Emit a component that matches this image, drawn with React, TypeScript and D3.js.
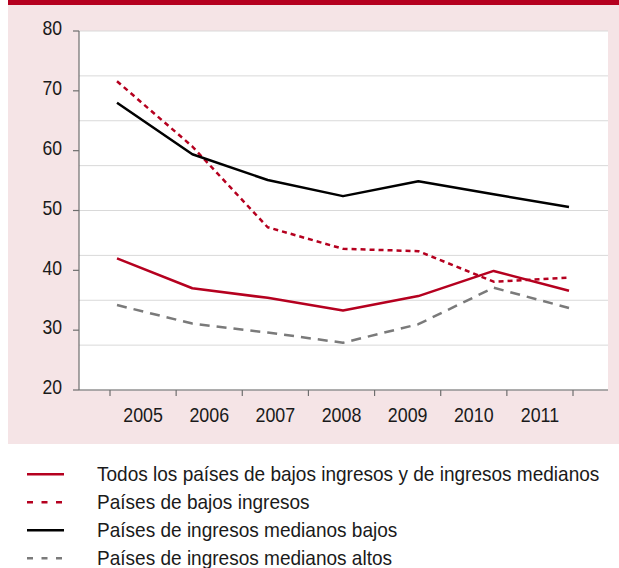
import React from 'react';
import * as d3 from 'd3';

const years = ['2005', '2006', '2007', '2008', '2009', '2010', '2011'];
const todos = [42.0, 37.0, 35.4, 33.3, 35.7, 39.9, 36.6];
const bajos = [71.6, 60.7, 47.2, 43.6, 43.2, 38.1, 38.8];
const medianosBajos = [68.0, 59.4, 55.1, 52.4, 54.9, 52.7, 50.6];
const medianosAltos = [34.2, 31.1, 29.6, 27.9, 31.0, 37.1, 33.7];
const yTicks = [20, 30, 40, 50, 60, 70, 80];
const gridValues = [20, 27.5, 35, 42.5, 50, 57.5, 65, 72.5, 80];

const RED = '#b5001f';
const FONT = '"Liberation Sans", Arial, sans-serif';

const series = [
  { name: 'Todos los países de bajos ingresos y de ingresos medianos', values: todos, color: RED, dash: '', legendDash: '' },
  { name: 'Países de bajos ingresos', values: bajos, color: RED, dash: '5,4', legendDash: '6,8.5' },
  { name: 'Países de ingresos medianos bajos', values: medianosBajos, color: '#000', dash: '', legendDash: '' },
  { name: 'Países de ingresos medianos altos', values: medianosAltos, color: '#7a7a7a', dash: '10,7', legendDash: '6,8.5' },
];

// condensed look: Liberation Sans squeezed horizontally
const NarrowText: React.FC<{ x: number; y: number; size: number; sx: number; anchor?: string; children: React.ReactNode }> =
  ({ x, y, size, sx, anchor = 'start', children }) => (
    <text transform={`translate(${x},${y}) scale(${sx},1)`} textAnchor={anchor} fontSize={size} fill="#1a1a1a">
      {children}
    </text>
  );

const App: React.FC = () => {
  const width = 619;
  const height = 568;
  const plotLeft = 79;
  const plotRight = 608;

  const y = d3.scaleLinear().domain([20, 80]).range([390, 31]);
  // category bands for ticks/labels
  const xBand = d3.scaleBand<string>().domain(years).range([110, 573]).padding(0);
  // data points sit on their own spacing
  const xPoint = d3.scalePoint<string>().domain(years).range([117, 569]);

  const line = d3.line<number>()
    .x((_, i) => xPoint(years[i]) as number)
    .y(d => y(d));

  const bandTicks = [...years.map(d => xBand(d) as number), xBand.range()[1]];

  return (
    <div style={{ position: 'absolute', left: 0, top: 0 }}>
      <svg width={width} height={height} style={{ display: 'block', fontFamily: FONT }}>
        <rect x={0} y={0} width={width} height={height} fill="#fff" />
        <rect x={8} y={0} width={width - 8} height={444} fill="#f5e4e6" />
        <rect x={8} y={0} width={width - 8} height={5} fill={RED} />
        <rect x={plotLeft} y={y(80)} width={plotRight - plotLeft} height={y(20) - y(80)} fill="#fff" />

        {gridValues.map(v => (
          <line key={v} x1={plotLeft} x2={plotRight} y1={y(v)} y2={y(v)} stroke="#d9d9d9" strokeWidth={1} />
        ))}

        <line x1={plotLeft} x2={plotLeft} y1={y(80)} y2={y(20)} stroke="#6e6e6e" strokeWidth={1.2} />
        <line x1={plotLeft} x2={plotRight} y1={y(20)} y2={y(20)} stroke="#6e6e6e" strokeWidth={1.2} />

        {yTicks.map(v => (
          <g key={v}>
            <line x1={plotLeft - 6} x2={plotLeft} y1={y(v)} y2={y(v)} stroke="#6e6e6e" strokeWidth={1.2} />
            <NarrowText x={62} y={y(v) + 4.3} size={20} sx={0.88} anchor="end">{v}</NarrowText>
          </g>
        ))}

        {bandTicks.map((t, i) => (
          <line key={i} x1={t} x2={t} y1={y(20)} y2={y(20) + 6} stroke="#6e6e6e" strokeWidth={1.2} />
        ))}
        {years.map(yr => (
          <NarrowText key={yr} x={(xBand(yr) as number) + xBand.bandwidth() / 2} y={421.7} size={21} sx={0.85} anchor="middle">
            {yr}
          </NarrowText>
        ))}

        {series.map(s => (
          <path key={s.name} d={line(s.values) || ''} fill="none" stroke={s.color} strokeWidth={2.5}
            strokeDasharray={s.dash || undefined} strokeLinejoin="round" />
        ))}

        {series.map((s, i) => {
          const ly = 474.3 + i * 28;
          return (
            <g key={s.name}>
              <line x1={27} x2={64} y1={ly} y2={ly} stroke={s.color} strokeWidth={2.5}
                strokeDasharray={s.legendDash || undefined} />
              <NarrowText x={97} y={ly + 6.5} size={20.5} sx={0.929}>{s.name}</NarrowText>
            </g>
          );
        })}
      </svg>
    </div>
  );
};

export default App;
